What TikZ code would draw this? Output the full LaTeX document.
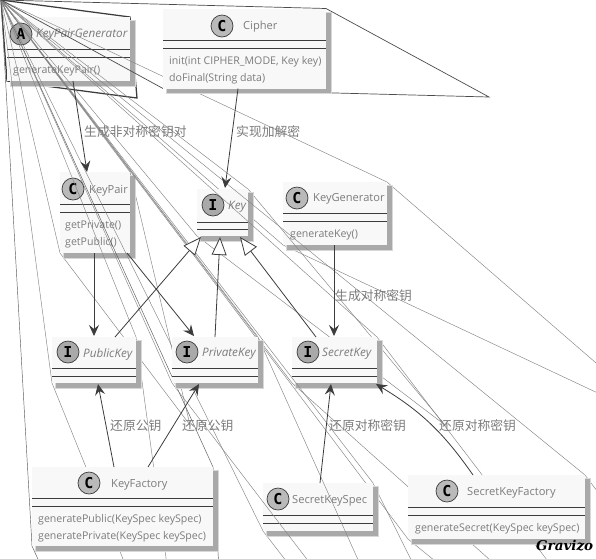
\documentclass[tikz,border=0pt]{standalone}
\usepackage{fontspec}
\setmainfont{Open Sans}
\newfontfamily\cjkf{Noto Sans CJK SC}
\newfontfamily\spotf{DejaVu Sans Mono}
\newfontfamily\logof{DejaVu Serif}
\usetikzlibrary{arrows.meta,calc}
\definecolor{inkc}{HTML}{7C7C7C}
\definecolor{darkc}{HTML}{3C3C3C}
\definecolor{bodyc}{HTML}{F8F8F8}
\definecolor{shadc}{HTML}{A9A9A9}
\definecolor{fanc}{HTML}{858585}
\tikzset{
  x=1pt,y=-1pt,
  bodybox/.style={fill=bodyc,draw=none,inner sep=0pt,outer sep=0pt,anchor=north west},
  fanline/.style={draw=fanc,line width=.45pt},
  divider/.style={draw=darkc,line width=.95pt},
  classname/.style={text=inkc,font=\fontsize{11.1}{12}\selectfont,inner sep=0pt,anchor=west},
  absname/.style={classname,font=\fontsize{11.7}{12}\selectfont\itshape},
  member/.style={classname,font=\fontsize{10.6}{12}\selectfont},
  cjklabel/.style={text=inkc,font=\fontsize{12.8}{14}\selectfont\cjkf,inner sep=0pt,anchor=west},
  spot/.style={circle,draw=darkc,line width=.7pt,minimum size=22pt,inner sep=0pt,text=black,font=\fontsize{15}{15}\selectfont\spotf\bfseries},
  assoc/.style={draw=darkc,line width=.8pt,-{Stealth[length=11pt,width=10pt,inset=4pt]}},
  inherit/.style={draw=darkc,line width=.8pt,-{Triangle[open,length=18pt,width=15pt,fill=white]}},
}
% name, x0, y0, x1, y1, divider1, divider2, fan style
\newcommand{\umlbox}[8]{%
  \pgfmathsetmacro{\boxw}{#4-#2}\pgfmathsetmacro{\boxh}{#5-#3}%
  \pgfmathsetmacro{\fx}{#4+#2}\pgfmathsetmacro{\fy}{#3+#5}%
  \draw[fanline,#8] (1,0) -- (#4,#3) -- (\fx,\fy) -- (#2,#5) -- cycle;
  \fill[shadc!45] (#2+3,#3+3) rectangle (#4+5.5,#5+5.5);
  \fill[shadc] (#2+4,#3+4) rectangle (#4+4.5,#5+4.5);
  \node[bodybox,minimum width=\boxw pt,minimum height=\boxh pt] (#1) at (#2,#3) {};
  \draw[divider] (#2,#6) -- (#4,#6);
  \draw[divider] (#2,#7) -- (#4,#7);
}
\begin{document}
\begin{tikzpicture}
\useasboundingbox (0,0) rectangle (596,558);
\clip (0,0) rectangle (596,558);
\fill[white] (0,0) rectangle (596,558);

% KeyPairGenerator
\umlbox{kpg}{7}{17}{130}{81}{49}{57}{draw=darkc,line width=1.25pt}
\node[spot,fill=shadc] (kpgs) at (21,34) {A};
\node[absname] (kpgn) at (36,34.5) {KeyPairGenerator};
\node[member] (kpgm) at (13,71) {generateKeyPair()};

% KeyPair
\umlbox{kp}{60}{172}{130}{253}{204}{212}{}
\node[spot,fill=shadc!80!white] (kps) at (73,189) {C};
\node[classname] (kpn) at (89,191) {KeyPair};
\node[member] (kpm) at (65,226) {getPrivate()};
\node[member] (kpq) at (65,243) {getPublic()};

% KeyGenerator
\umlbox{kg}{283}{182}{387}{245}{213}{221}{}
\node[spot,fill=shadc!80!white] (kgs) at (297,198) {C};
\node[classname] (kgn) at (313,199) {KeyGenerator};
\node[member] (kgm) at (290,235) {generateKey()};

% Key
\umlbox{key}{197}{189}{248}{236}{222}{229}{}
\node[spot,fill=shadc] (keys) at (213,205) {I};
\node[absname] (keyn) at (228,207) {Key};

% PublicKey
\umlbox{pub}{52}{337}{136}{383}{368}{376}{}
\node[spot,fill=shadc] (pubs) at (68,352) {I};
\node[absname] (pubn) at (83,354) {PublicKey};

% SecretKey
\umlbox{sec}{292}{337}{377}{383}{368}{376}{}
\node[spot,fill=shadc] (secs) at (308,352) {I};
\node[absname] (secn) at (322,354) {SecretKey};

% SecretKeyFactory
\umlbox{skf}{408}{475}{585}{539}{507}{515}{}
\node[spot,fill=shadc!80!white] (skfs) at (447,491) {C};
\node[classname] (skfn) at (467,493) {SecretKeyFactory};
\node[member] (skfm) at (415,529) {generateSecret(KeySpec keySpec)};

% KeyFactory
\umlbox{kf}{32}{467}{213}{546}{498}{506}{draw=gray!70!black}
\node[spot,fill=shadc!80!white] (kfs) at (89,483) {C};
\node[classname] (kfn) at (111,485) {KeyFactory};
\node[member] (kfm) at (38,520) {generatePublic(KeySpec keySpec)};
\node[member] (kfq) at (38,537) {generatePrivate(KeySpec keySpec)};

% SecretKeySpec
\umlbox{sks}{263}{483}{373}{531}{515}{523}{}
\node[spot,fill=shadc!80!white] (skss) at (278,499) {C};
\node[classname] (sksn) at (292,501) {SecretKeySpec};

% PrivateKey
\umlbox{pri}{172}{337}{258}{383}{368}{376}{}
\node[spot,fill=shadc] (pris) at (187,352) {I};
\node[absname] (prin) at (202,354) {PrivateKey};

% Cipher
\umlbox{cip}{163}{8.5}{326}{88.5}{40}{48}{draw=gray!60!black,line width=.7pt}
\node[spot,fill=shadc!80!white] (cips) at (222,26) {C};
\node[classname] (cipn) at (243,27) {Cipher};
\node[member] (cipm) at (169,62) {init(int CIPHER\_MODE, Key key)};
\node[member] (cipq) at (169,79) {doFinal(String data)};

% Connectors
\draw[assoc] ([xshift=66pt]kpg.south west) -- ([xshift=27pt]kp.north west);
\draw[assoc] ([xshift=75pt]cip.south west) -- ([xshift=28pt,yshift=1pt]key.north west);
\draw[assoc] ([xshift=34pt]kp.south west) -- ([xshift=42pt,yshift=1pt]pub.north west);
\draw[assoc] ([xshift=67pt]kp.south west) -- ([xshift=22pt,yshift=1pt]pri.north west);
\draw[inherit] ([xshift=63pt]pub.north west) -- ([xshift=4pt,yshift=-1pt]key.south west);
\draw[inherit] ([xshift=43pt]pri.north west) -- ([xshift=23pt,yshift=-1pt]key.south west);
\draw[inherit] ([xshift=24pt]sec.north west) -- ([xshift=43pt,yshift=-1pt]key.south west);
\draw[assoc] ([xshift=51pt]kg.south west) -- ([xshift=42pt,yshift=1pt]sec.north west);
\draw[assoc] ([xshift=82pt]kf.north west) -- ([xshift=46pt,yshift=-1pt]pub.south west);
\draw[assoc] ([xshift=116pt]kf.north west) -- ([xshift=27pt,yshift=-1pt]pri.south west);
\draw[assoc] ([xshift=57pt]sks.north west) -- ([xshift=39pt,yshift=-1pt]sec.south west);
\draw[assoc] ([xshift=65pt]skf.north west) to[bend right=12] ([xshift=-1pt,yshift=-1pt]sec.south east);

% Labels
\node[cjklabel] (l1) at (84,131.5) {生成非对称密钥对};
\node[cjklabel] (l2) at (236,131.5) {实现加解密};
\node[cjklabel] (l3) at (335,295.5) {生成对称密钥};
\node[cjklabel] (l4) at (110,425.5) {还原公钥};
\node[cjklabel] (l5) at (182,425.5) {还原公钥};
\node[cjklabel] (l6) at (329,425.5) {还原对称密钥};
\node[cjklabel] (l7) at (439,425.5) {还原对称密钥};
\node[inner sep=0pt,anchor=west,text=black,font=\fontsize{13.5}{14}\selectfont\logof\bfseries\itshape] (logo) at (536,546) {Gravizo};
\end{tikzpicture}
\end{document}
